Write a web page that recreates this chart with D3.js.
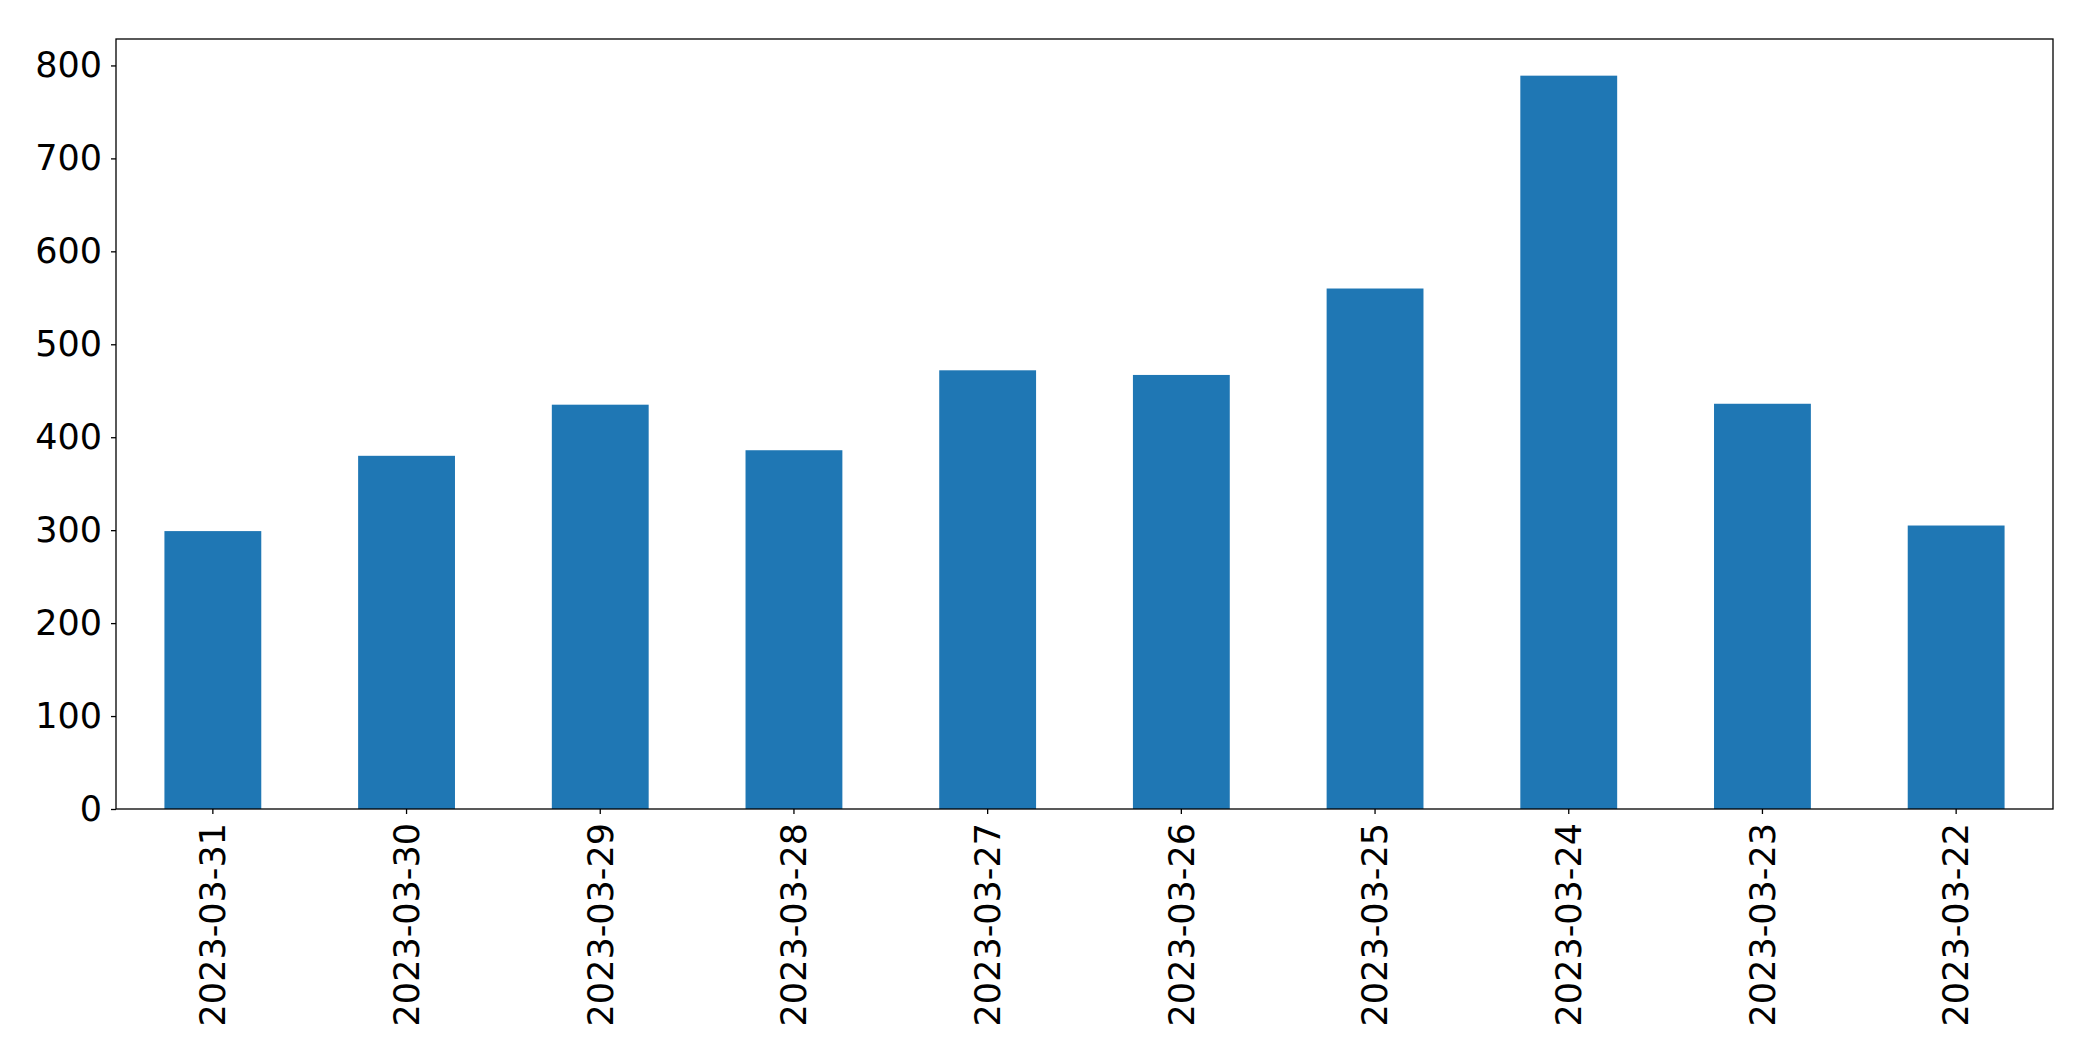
<!DOCTYPE html>
<html>
<head>
<meta charset="utf-8">
<script src="https://cdn.jsdelivr.net/npm/d3@7"></script>
<style>
    body { margin: 0; background: #fff; }
    text { font-family: "DejaVu Sans", sans-serif; }
</style>
</head>
<body>
<div id="chart"></div>
<script>
// 日期 (x 軸) 與數量
const dates = ["2023-03-31", "2023-03-30", "2023-03-29", "2023-03-28", "2023-03-27",
               "2023-03-26", "2023-03-25", "2023-03-24", "2023-03-23", "2023-03-22"];
const counts = [299, 380, 435, 386, 472, 467, 560, 789, 436, 305];
const yTicks = [0, 100, 200, 300, 400, 500, 600, 700, 800];

const W = 2093, H = 1061;
const margin = {top: 39, right: 40, bottom: 252, left: 116};
const width = W - margin.left - margin.right;
const height = H - margin.top - margin.bottom;

const svg = d3.select("#chart")
    .append("svg")
    .attr("width", W)
    .attr("height", H)
    .append("g")
    .attr("transform", `translate(${margin.left},${margin.top})`);

// 比例尺
const x = d3.scaleBand()
    .domain(dates)
    .range([0, width])
    .paddingInner(0.5)
    .paddingOuter(0.25);

const y = d3.scaleLinear()
    .domain([0, d3.max(counts) * 1.05])
    .range([height, 0]);

// 長條
svg.selectAll(".bar")
    .data(dates)
    .enter()
    .append("rect")
    .attr("class", "bar")
    .attr("x", d => x(d))
    .attr("y", (d, i) => y(counts[i]))
    .attr("width", x.bandwidth())
    .attr("height", (d, i) => height - y(counts[i]))
    .attr("fill", "#1f77b4");

// y 軸
const yAxis = svg.append("g")
    .call(d3.axisLeft(y).tickValues(yTicks).tickSize(5).tickPadding(9).tickSizeOuter(0));
yAxis.selectAll("text")
    .style("font-size", "35px")
    .attr("fill", "#000");

// x 軸
const xAxis = svg.append("g")
    .attr("transform", `translate(0,${height})`)
    .call(d3.axisBottom(x).tickSize(5).tickPadding(9).tickSizeOuter(0));
xAxis.selectAll("text")
    .style("font-size", "35px")
    .attr("fill", "#000")
    .attr("text-anchor", "end")
    .attr("y", 0)
    .attr("x", 0)
    .attr("dy", "0.35em")
    .attr("transform", "translate(0,14) rotate(-90)");

svg.selectAll(".domain").remove();
svg.selectAll(".tick line").attr("stroke", "#000").attr("stroke-width", 1.3);

// 外框
svg.append("rect")
    .attr("x", 0)
    .attr("y", 0)
    .attr("width", width)
    .attr("height", height)
    .attr("fill", "none")
    .attr("stroke", "#000")
    .attr("stroke-width", 1.3);
</script>
</body>
</html>
